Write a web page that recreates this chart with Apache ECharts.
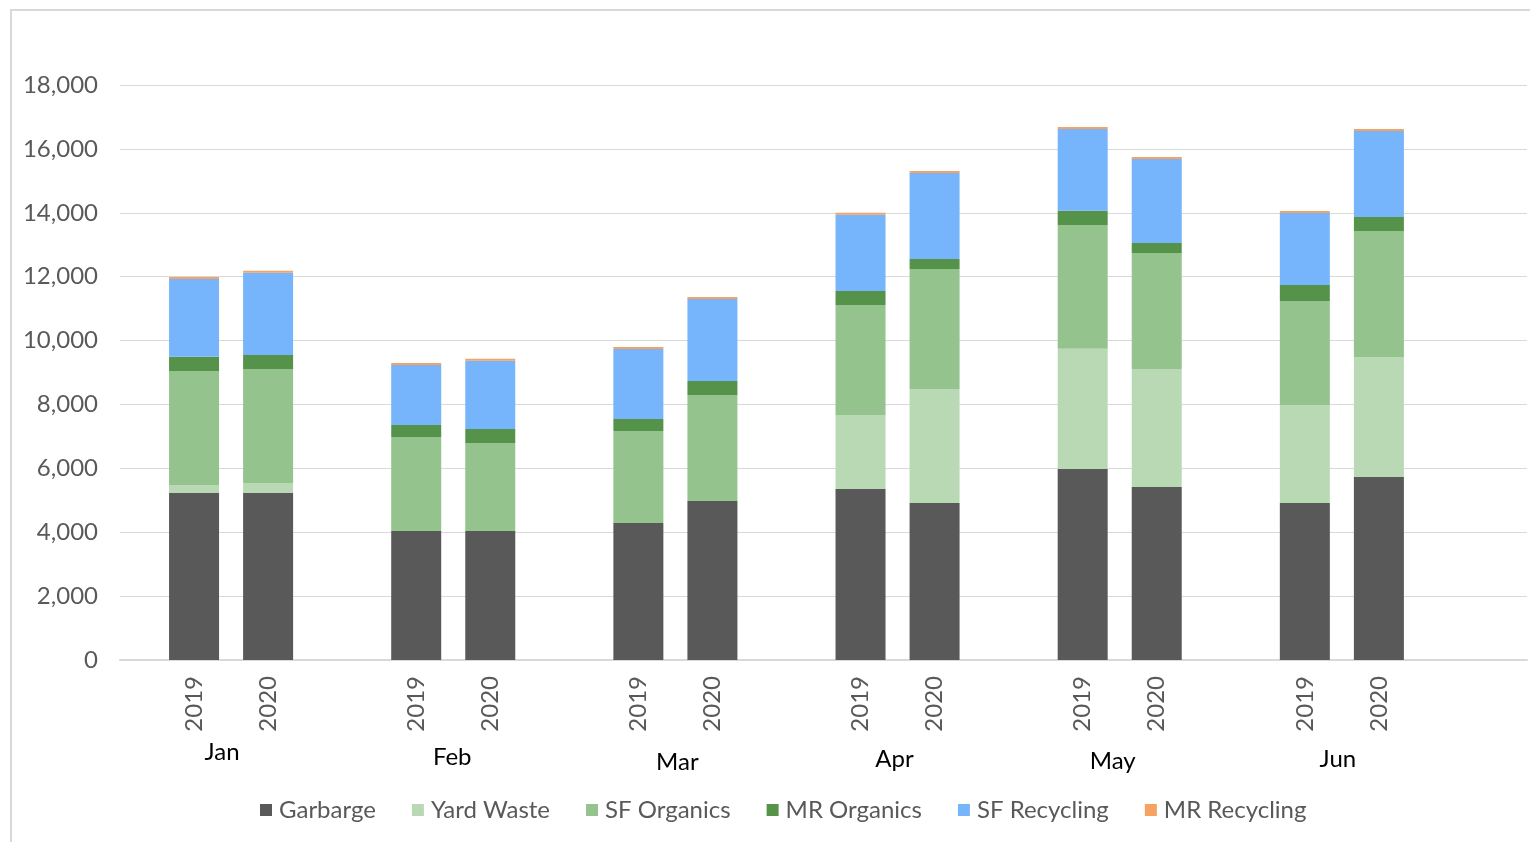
<!DOCTYPE html>
<html>
<head>
<meta charset="utf-8">
<script src="https://cdn.jsdelivr.net/npm/echarts@6/dist/echarts.min.js"></script>
<style>
  html, body { margin: 0; padding: 0; background: #fff; }
  #chart { width: 1530px; height: 842px; }
</style>
</head>
<body>
<div id="chart"></div>
<script>
// Monthly tonnage by stream, 2019 vs 2020
const months = ['Jan', 'Feb', 'Mar', 'Apr', 'May', 'Jun'];
const years = ['2019', '2020'];
const yTicks = [0, 2000, 4000, 6000, 8000, 10000, 12000, 14000, 16000, 18000];

// values ordered Jan 2019, Jan 2020, Feb 2019, Feb 2020, ...
const garbage     = [5230, 5230, 4040, 4040, 4290, 4980, 5350, 4915, 5980, 5415, 4915, 5730];
const yardWaste   = [250, 310, 0, 0, 0, 0, 2320, 3570, 3760, 3695, 3070, 3755];
const sfOrganics  = [3570, 3570, 2940, 2755, 2880, 3315, 3445, 3755, 3880, 3630, 3255, 3945];
const mrOrganics  = [440, 440, 375, 440, 375, 440, 440, 315, 440, 315, 500, 440];
const sfRecycling = [2440, 2570, 1880, 2130, 2190, 2565, 2380, 2690, 2565, 2630, 2255, 2690];
const mrRecycling = [63, 62, 63, 63, 62, 63, 62, 63, 63, 62, 63, 63];

const seriesNames = ['Garbarge', 'Yard Waste', 'SF Organics', 'MR Organics', 'SF Recycling', 'MR Recycling'];
const seriesColors = ['#595959', '#b9d9b5', '#94c38e', '#55934b', '#76b5fb', '#f5a262'];
const seriesValues = [garbage, yardWaste, sfOrganics, mrOrganics, sfRecycling, mrRecycling];

// Category slots: a spacer, then (2019, 2020, spacer) per month, and a closing spacer
const slotCount = 1 + months.length * 3 + 1;
const slotLabels = new Array(slotCount).fill('');
months.forEach((m, mi) => years.forEach((y, yi) => { slotLabels[1 + mi * 3 + yi] = y; }));

function toSlots(values) {
  const out = new Array(slotCount).fill('-');
  months.forEach((m, mi) => years.forEach((y, yi) => {
    out[1 + mi * 3 + yi] = values[mi * 2 + yi];
  }));
  return out;
}

// month label placement tweaks (rich text styles)
const monthRich = {
  Jan: { padding: [0, 18, 0, 0] },
  Feb: { padding: [10, 2, 0, 0] },
  Mar: { padding: [20, 0, 0, 4] },
  Apr: { padding: [14, 6, 0, 0] },
  May: { padding: [18, 14, 0, 0] },
  Jun: { padding: [14, 8, 0, 0] }
};
Object.keys(monthRich).forEach(k => Object.assign(monthRich[k], {
  fontFamily: 'Lato', fontSize: 24, color: '#000000', lineHeight: 24
}));

const chart = echarts.init(document.getElementById('chart'), null, { renderer: 'canvas' });

chart.setOption({
  animation: false,
  backgroundColor: '#ffffff',
  textStyle: { fontFamily: 'Lato' },
  graphic: [{
    type: 'rect',
    shape: { x: 11, y: 10, width: 1700, height: 1000 },
    style: { fill: 'none', stroke: '#d9d9d9', lineWidth: 2 },
    silent: true,
    z: -10
  }],
  grid: { left: 120, right: 0, top: 85, bottom: 182, containLabel: false },
  legend: {
    left: 255,
    top: 793,
    icon: 'rect',
    itemWidth: 12,
    itemHeight: 12,
    itemGap: 36,
    textStyle: { fontFamily: 'Lato', fontSize: 24, color: '#595959', padding: [0, 0, 0, 2] },
    data: seriesNames
  },
  xAxis: [{
    type: 'category',
    boundaryGap: false,
    data: slotLabels,
    axisLine: { lineStyle: { color: '#d9d9d9', width: 2 } },
    axisTick: { show: false },
    splitLine: { show: false },
    axisLabel: {
      interval: 0,
      rotate: 90,
      margin: 16,
      fontFamily: 'Lato',
      fontSize: 24,
      color: '#595959'
    }
  }, {
    type: 'value',
    position: 'bottom',
    min: 0,
    max: slotCount - 1,
    interval: 0.5,
    axisLine: { show: false },
    axisTick: { show: false },
    splitLine: { show: false },
    axisLabel: {
      margin: 80,
      showMinLabel: true,
      showMaxLabel: true,
      formatter: function (v) {
        const k = (v - 1.5) / 3;
        if (Number.isInteger(k) && k >= 0 && k < months.length) {
          return '{' + months[k] + '|' + months[k] + '}';
        }
        return '';
      },
      rich: monthRich
    }
  }],
  yAxis: {
    type: 'value',
    min: yTicks[0],
    max: yTicks[yTicks.length - 1],
    interval: yTicks[1] - yTicks[0],
    axisLine: { show: false },
    axisTick: { show: false },
    splitLine: { lineStyle: { color: '#d9d9d9', width: 1 } },
    axisLabel: {
      margin: 22,
      fontFamily: 'Lato',
      fontSize: 24,
      color: '#595959',
      formatter: v => v.toLocaleString('en-US')
    }
  },
  series: seriesNames.map((name, i) => ({
    name: name,
    type: 'bar',
    stack: 'total',
    xAxisIndex: 0,
    barWidth: 50,
    itemStyle: { color: seriesColors[i] },
    data: toSlots(seriesValues[i])
  }))
});
</script>
</body>
</html>
